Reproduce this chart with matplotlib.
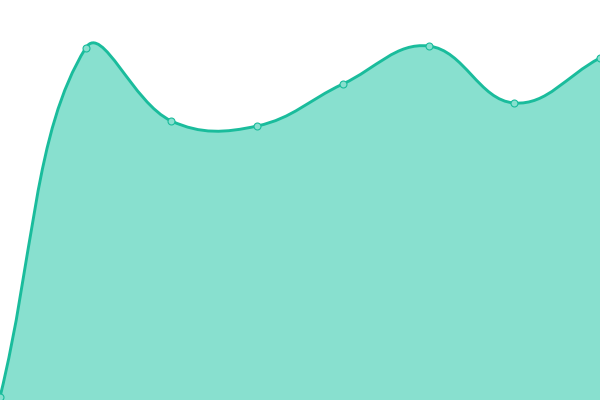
import numpy as np
import matplotlib
matplotlib.use("Agg")
import matplotlib.pyplot as plt
from matplotlib.path import Path
from matplotlib.patches import PathPatch

# values (axis hidden)
labels = ["A", "B", "C", "D", "E", "F", "G", "H"]
values = [3, 352, 279, 274, 316, 354, 297, 342]

line_color = "#1abc9c"
fill_color = "#88e0cf"
tension = 0.4

fig = plt.figure(figsize=(6, 4), dpi=100)
ax = fig.add_axes([0, 0, 1, 1])
ax.set_xlim(0, len(values) - 1)
ax.set_ylim(0, 400)
ax.axis("off")

xi = np.arange(len(values))
# work out bezier control points in pixel space (chart.js style spline)
pts = ax.transData.transform(np.column_stack([xi, values]))
n = len(pts)
cp_prev = pts.copy()
cp_next = pts.copy()
for i in range(n):
    p0 = pts[i - 1] if i > 0 else pts[i]
    p1 = pts[i]
    p2 = pts[i + 1] if i < n - 1 else pts[i]
    d01 = np.hypot(*(p1 - p0))
    d12 = np.hypot(*(p2 - p1))
    tot = d01 + d12
    fa = tension * d01 / tot if tot else 0
    fb = tension * d12 / tot if tot else 0
    cp_prev[i] = p1 - fa * (p2 - p0)
    cp_next[i] = p1 + fb * (p2 - p0)

inv = ax.transData.inverted()
pts_d = inv.transform(pts)
cpp_d = inv.transform(cp_prev)
cpn_d = inv.transform(cp_next)

verts = [pts_d[0]]
codes = [Path.MOVETO]
for i in range(n - 1):
    verts += [cpn_d[i], cpp_d[i + 1], pts_d[i + 1]]
    codes += [Path.CURVE4] * 3
line_path = Path(verts, codes)

fill_verts = verts + [(xi[-1], 0), (xi[0], 0), verts[0]]
fill_codes = codes + [Path.LINETO, Path.LINETO, Path.CLOSEPOLY]
ax.add_patch(PathPatch(Path(fill_verts, fill_codes), fc=fill_color, ec="none"))
ax.add_patch(PathPatch(line_path, fc="none", ec=line_color, lw=2.1))
ax.plot(xi, values, "o", ms=5, mfc=fill_color, mec=line_color, mew=0.8)

fig.savefig("out.png", dpi=100)
